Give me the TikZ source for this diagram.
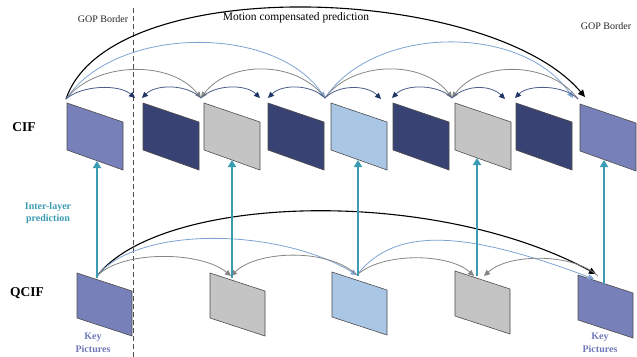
\documentclass[tikz,border=0pt]{standalone}
\usepackage{fontspec}
\setmainfont{Liberation Serif}
\usetikzlibrary{arrows.meta}

\definecolor{keyblue}{HTML}{7880BA}
\definecolor{navyframe}{HTML}{394373}
\definecolor{grayframe}{HTML}{C4C4C4}
\definecolor{lightframe}{HTML}{A9C6E5}
\definecolor{ilteal}{HTML}{3A9BB2}
\definecolor{navyarc}{HTML}{4A5C88}
\definecolor{navyhead}{HTML}{1F3566}
\definecolor{grayarc}{HTML}{858585}
\definecolor{bluearc}{HTML}{7EA3D3}
\definecolor{keytext}{HTML}{6F78B8}

\tikzset{
  picframe/.style={draw=black!70, line width=0.6pt},
  gopline/.style={draw=black!70, line width=0.6pt, dash pattern=on 5pt off 3pt},
  arcnavy/.style={draw=navyarc, line width=0.8pt, -{Triangle[length=6pt,width=5.5pt,color=navyhead]}},
  arcgray/.style={draw=grayarc, line width=0.8pt, -{Triangle[length=6pt,width=5.5pt]}},
  arcblue/.style={draw=bluearc, line width=0.8pt, -{Triangle[length=6pt,width=5.5pt]}},
  arcblack/.style={draw=black, line width=1.1pt, -{Triangle[length=7pt,width=6.5pt]}},
  ilarrow/.style={draw=ilteal, line width=2pt, -{Triangle[length=7pt,width=8pt]}},
  layerlabel/.style={font=\bfseries\fontsize{13.5}{15}\selectfont},
  smalllabel/.style={font=\fontsize{10}{12}\selectfont, text=black!85},
  ilplabel/.style={font=\bfseries\fontsize{10}{12}\selectfont, text=ilteal, align=center},
  keylabel/.style={font=\bfseries\fontsize{10}{12.5}\selectfont, text=keytext, align=center},
}

% CIF frame: left x, top y, fill colour
\newcommand{\cifframe}[3]{%
  \path[picframe, fill=#3] (#1,#2) -- ++(56,19) -- ++(0,48) -- ++(-56,-20) -- cycle;}
% QCIF frame: left x, top y, fill colour
\newcommand{\qcifframe}[3]{%
  \path[picframe, fill=#3] (#1,#2) -- ++(55,18) -- ++(0,45) -- ++(-55,-18) -- cycle;}

\begin{document}
\begin{tikzpicture}[x=1pt,y=-1pt]
\useasboundingbox (0,0) rectangle (637,356);

% GOP border
\coordinate (gopT) at (133,8);
\coordinate (gopB) at (133,358);
\draw[gopline] (gopT) -- (gopB);

% CIF layer pictures
\cifframe{67}{103}{keyblue}
\cifframe{143}{103}{navyframe}
\cifframe{204}{103}{grayframe}
\cifframe{268}{103}{navyframe}
\cifframe{331}{103}{lightframe}
\cifframe{393}{103}{navyframe}
\cifframe{455}{103}{grayframe}
\cifframe{516}{103}{navyframe}
\cifframe{580}{104}{keyblue}

% QCIF layer pictures
\qcifframe{77}{273}{keyblue}
\qcifframe{210}{273}{grayframe}
\qcifframe{332}{272}{lightframe}
\qcifframe{455}{271}{grayframe}
\qcifframe{578}{275}{keyblue}

% labels
\node[layerlabel] (cif) at (24,127) {CIF};
\node[layerlabel] (qcif) at (27,293) {QCIF};
\node[smalllabel] (gopL) at (103,19) {GOP Border};
\node[smalllabel] (gopR) at (606,26) {GOP Border};
\node[font=\fontsize{11.5}{13}\selectfont] (mcp) at (296,18) {Motion compensated prediction};
\node[ilplabel] (ilp) at (48,213) {Inter-layer\\prediction};
\node[keylabel] (key1) at (93,343) {Key\\Pictures};
\node[keylabel] (key2) at (600,343) {Key\\Pictures};

% CIF arc anchors
\coordinate (a1) at (66,99);
\coordinate (f2l) at (135,98);
\coordinate (f2r) at (142,98);
\coordinate (a3) at (201,98);
\coordinate (f4l) at (260,98);
\coordinate (f4r) at (268,98);
\coordinate (a5) at (325,98);
\coordinate (f6l) at (381,99);
\coordinate (f6r) at (392,98);
\coordinate (a7) at (452,98);
\coordinate (f8l) at (505,99);
\coordinate (f8r) at (515,98);
\coordinate (a9) at (578,99);
\coordinate (f9l) at (573,98);
\coordinate (f9b) at (585,97);

% motion compensated prediction, CIF
\draw[arcblack] (a1) .. controls +(44,-129) and +(-95,-112) .. (f9b);
\draw[arcblue] (a1) .. controls +(50,-74) and +(-50,-74) .. (a5);
\draw[arcblue] (a5) .. controls +(50,-74) and +(-50,-74) .. (f9l);
\draw[arcgray] (a1) .. controls +(30,-38) and +(-30,-38) .. (a3);
\draw[arcgray] (a5) .. controls +(-28,-38) and +(28,-38) .. (a3);
\draw[arcgray] (a5) .. controls +(28,-38) and +(-28,-38) .. (a7);
\draw[arcgray] (a9) .. controls +(-28,-38) and +(28,-38) .. (a7);
\draw[arcnavy] (a1) .. controls +(16,-14) and +(-16,-14) .. (f2l);
\draw[arcnavy] (a3) .. controls +(-14,-14) and +(14,-14) .. (f2r);
\draw[arcnavy] (a3) .. controls +(14,-14) and +(-14,-14) .. (f4l);
\draw[arcnavy] (a5) .. controls +(-14,-14) and +(14,-14) .. (f4r);
\draw[arcnavy] (a5) .. controls +(14,-14) and +(-14,-14) .. (f6l);
\draw[arcnavy] (a7) .. controls +(-14,-14) and +(14,-14) .. (f6r);
\draw[arcnavy] (a7) .. controls +(14,-14) and +(-14,-14) .. (f8l);
\draw[arcnavy] (a9) .. controls +(-14,-14) and +(14,-14) .. (f8r);

% QCIF arc anchors
\coordinate (q1) at (97,276);
\coordinate (q2) at (231,276);
\coordinate (q3) at (357,275);
\coordinate (q4l) at (474,276);
\coordinate (q4r) at (484,276);
\coordinate (q5) at (596,274);
\coordinate (q5b) at (594,279);
\coordinate (q5s) at (598,276);

% motion compensated prediction, QCIF
\draw[arcblack] (q1) .. controls +(63,-81) and +(-165,-89) .. (q5);
\draw[arcblue] (q1) .. controls +(40,-50) and +(-80,-48) .. (q3);
\draw[arcblue] (q3) .. controls +(40,-52) and +(-120,-45) .. (q5b);
\draw[arcgray] (q1) .. controls +(25,-26) and +(-30,-25) .. (q2);
\draw[arcgray] (q3) .. controls +(-30,-28) and +(25,-25) .. (q2);
\draw[arcgray] (q3) .. controls +(25,-23) and +(-25,-23) .. (q4l);
\draw[arcgray] (q5s) .. controls +(-25,-23) and +(25,-23) .. (q4r);

% inter-layer prediction
\coordinate (b1) at (97,161);
\coordinate (b3) at (232,160);
\coordinate (b5) at (358,160);
\coordinate (b7) at (477,158);
\coordinate (b9) at (604,160);
\coordinate (t1) at (97,278);
\coordinate (t3) at (232,278);
\coordinate (t5) at (358,276);
\coordinate (t7) at (477,276);
\coordinate (t9) at (604,284);
\draw[ilarrow] (t1) -- (b1);
\draw[ilarrow] (t3) -- (b3);
\draw[ilarrow] (t5) -- (b5);
\draw[ilarrow] (t7) -- (b7);
\draw[ilarrow] (t9) -- (b9);
\end{tikzpicture}
\end{document}
